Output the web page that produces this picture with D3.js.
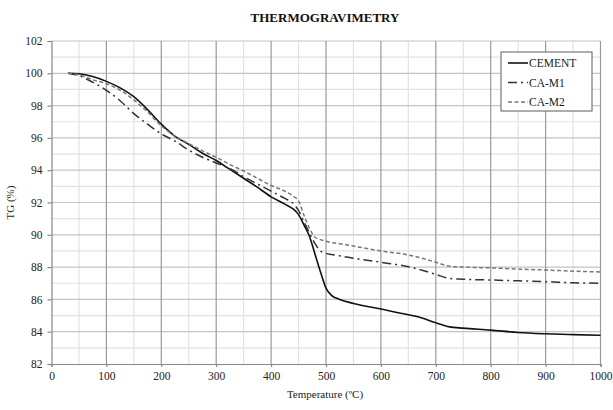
<!DOCTYPE html>
<html><head><meta charset="utf-8">
<script src="https://cdn.jsdelivr.net/npm/d3@7"></script>
<style>body{margin:0;background:#fff}svg{display:block}</style>
</head><body>
<script>
const temps = [30,50,75,100,125,150,175,200,225,250,275,300,325,350,375,400,425,440,450,460,470,480,490,500,510,525,550,600,650,675,700,725,750,800,850,900,950,1000];
const cement = [100,99.97,99.8,99.5,99.1,98.55,97.75,96.85,96.1,95.6,95.05,94.6,94.05,93.5,92.95,92.35,91.9,91.6,91.25,90.6,89.9,88.8,87.7,86.7,86.25,86.0,85.75,85.4,85.05,84.85,84.55,84.3,84.22,84.1,83.95,83.87,83.82,83.78];
const caM1 = [100,99.85,99.45,98.95,98.3,97.5,96.85,96.25,95.8,95.25,94.8,94.45,94.1,93.6,93.15,92.7,92.25,91.95,91.5,90.8,90.1,89.45,89.0,88.85,88.78,88.7,88.55,88.3,88.02,87.8,87.55,87.3,87.25,87.2,87.15,87.1,87.03,87.0];
const caM2 = [100,99.9,99.6,99.35,98.95,98.35,97.6,96.75,96.1,95.65,95.2,94.8,94.35,93.95,93.5,93.05,92.7,92.4,92.1,91.2,90.4,89.85,89.7,89.6,89.52,89.45,89.3,89.0,88.75,88.55,88.3,88.05,88.0,87.95,87.88,87.82,87.75,87.7];
const seriesNames = ["CEMENT","CA-M1","CA-M2"];
const xTicks = d3.range(0,1001,100);
const yTicks = d3.range(82,103,2);

const W=613,H=410;
const m={l:51.5,r:12.5,t:41,b:46};
const svg=d3.select("body").append("svg").attr("width",W).attr("height",H);
const x=d3.scaleLinear().domain([0,1000]).range([m.l,W-m.r]);
const y=d3.scaleLinear().domain([82,102]).range([H-m.b,m.t]);
const font="'Liberation Serif','Times New Roman',serif";

const g=svg.append("g");
g.selectAll(".hmin").data(d3.range(83,102,2)).join("line")
 .attr("x1",x(0)).attr("x2",x(1000)).attr("y1",d=>y(d)).attr("y2",d=>y(d))
 .attr("stroke","#e2e2e2").attr("stroke-width",1.2);
g.selectAll(".vmin").data(d3.range(50,1000,100)).join("line")
 .attr("y1",y(82)).attr("y2",y(102)).attr("x1",d=>x(d)).attr("x2",d=>x(d))
 .attr("stroke","#e2e2e2").attr("stroke-width",1.2);
g.selectAll(".hmaj").data(d3.range(84,103,2)).join("line")
 .attr("x1",x(0)).attr("x2",x(1000)).attr("y1",d=>y(d)).attr("y2",d=>y(d))
 .attr("stroke","#c4c4c4").attr("stroke-width",1.2);
g.selectAll(".vmaj").data(d3.range(100,1001,100)).join("line")
 .attr("y1",y(82)).attr("y2",y(102)).attr("x1",d=>x(d)).attr("x2",d=>x(d))
 .attr("stroke","#9a9a9a").attr("stroke-width",1.2);

const xa=svg.append("g").attr("transform",`translate(0,${y(82)})`)
 .call(d3.axisBottom(x).tickValues(xTicks).tickFormat(d3.format("d")).tickSize(3).tickPadding(5));
const ya=svg.append("g").attr("transform",`translate(${x(0)},0)`)
 .call(d3.axisLeft(y).tickValues(yTicks).tickFormat(d3.format("d")).tickSize(4).tickPadding(5));
[xa,ya].forEach(a=>{
 a.selectAll("path,line").attr("stroke","#888").attr("stroke-width",1.2);
 a.selectAll("text").attr("font-family",font).attr("font-size",11.5).attr("fill","#222");
});

const line=vals=>d3.line().x((d,i)=>x(temps[i])).y(d=>y(d)).curve(d3.curveMonotoneX)(vals);
const styles=[
 {data:cement,color:"#111",dash:null,w:1.6},
 {data:caM1,color:"#333",dash:"9,4,2,4",w:1.5},
 {data:caM2,color:"#777",dash:"4,2.5",w:1.5}
];
styles.forEach(s=>{
 svg.append("path").attr("d",line(s.data)).attr("fill","none")
  .attr("stroke",s.color).attr("stroke-width",s.w).attr("stroke-dasharray",s.dash);
});

svg.append("text").attr("x",325).attr("y",22).attr("text-anchor","middle")
 .attr("font-family",font).attr("font-size",13).attr("font-weight","bold").attr("fill","#111")
 .text("THERMOGRAVIMETRY");
svg.append("text").attr("x",325).attr("y",398).attr("text-anchor","middle")
 .attr("font-family",font).attr("font-size",11).attr("fill","#222").text("Temperature (ºC)");
svg.append("text").attr("transform",`translate(14,${y(92)}) rotate(-90)`).attr("text-anchor","middle")
 .attr("font-family",font).attr("font-size",11).attr("fill","#222").text("TG (%)");

const lg=svg.append("g").attr("transform","translate(501,52)");
lg.append("rect").attr("width",91).attr("height",59).attr("fill","#fff").attr("stroke","#777").attr("stroke-width",1.2);
seriesNames.forEach((n,i)=>{
 const yy=11+i*19.5;
 lg.append("line").attr("x1",7).attr("x2",27).attr("y1",yy).attr("y2",yy)
  .attr("stroke",styles[i].color).attr("stroke-width",styles[i].w).attr("stroke-dasharray",styles[i].dash);
 lg.append("text").attr("x",28).attr("y",yy+4).attr("font-family",font).attr("font-size",11.5).attr("fill","#222")
  .text(n);
});
</script>
</body></html>
